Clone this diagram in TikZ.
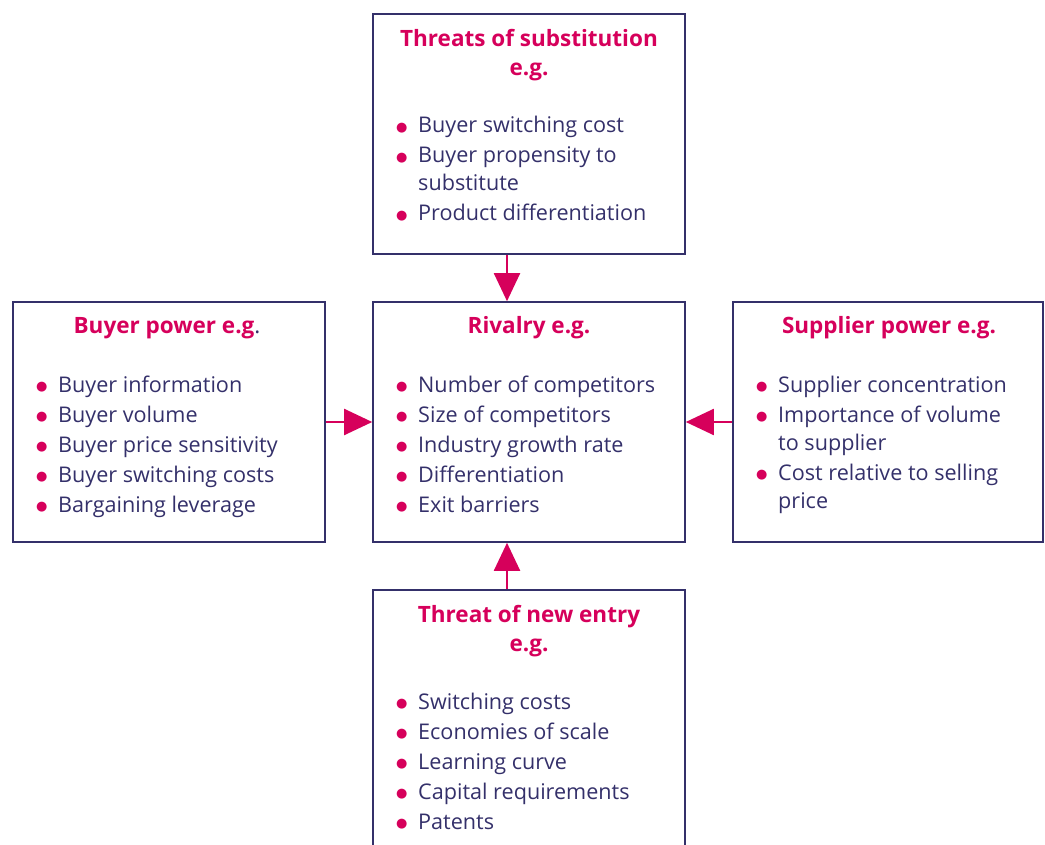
\documentclass[tikz,border=0pt]{standalone}
\usepackage{fontspec}
\setmainfont{Open Sans}
\newfontfamily\dotfont{DejaVu Sans}
\usetikzlibrary{arrows.meta}

\definecolor{navy}{HTML}{34306A}
\definecolor{rasp}{HTML}{D6005B}
\newcommand{\bul}[1]{\makebox[22pt][l]{\textcolor{rasp}{\raisebox{1.8pt}{\dotfont\fontsize{13}{13}\selectfont ●}}}#1}
\newcommand{\cont}[1]{\hspace*{22pt}#1}

\begin{document}
\begin{tikzpicture}[x=1pt, y=-1pt,
  box/.style={draw=navy, line width=1.6pt, minimum width=312pt, minimum height=240pt, inner sep=0pt},
  head/.style={text=rasp, font=\bfseries\fontsize{22.5}{29}\selectfont, align=center, anchor=base, inner sep=0pt},
  list/.style={text=navy, font=\fontsize{21.6}{30}\selectfont, align=left, anchor=base west, inner sep=0pt},
  force/.style={draw=rasp, line width=2pt, -{Triangle[width=26pt,length=28pt]}}]
\clip (0,0) rectangle (1045,845);

% the five forces
\node[box] (subst) at (529,134) {};
\node[box] (rival) at (529,422) {};
\node[box] (buyer) at (169,422) {};
\node[box, minimum width=310pt] (supplier) at (888,422) {};
\node[box, minimum height=290pt] (entry) at (529,735) {};

% headings (anchored at the last line)
\node[head] (substH) at (529,76) {Threats of substitution\\e.g.};
\node[head] (rivalH) at (529,334) {Rivalry e.g.};
\node[head] (buyerH) at (167,334) {Buyer power e.g\textcolor{navy}{\mdseries.}};
\node[head] (supplierH) at (889,334) {Supplier power e.g.};
\node[head] (entryH) at (529,651) {Threat of new entry\\e.g.};

% examples (anchored at the last line)
\node[list] (substL) at (396,221) {\bul{Buyer switching cost}\\\bul{Buyer propensity to}\\[-2pt]\cont{substitute}\\\bul{Product differentiation}};
\node[list] (rivalL) at (396,512) {\bul{Number of competitors}\\\bul{Size of competitors}\\\bul{Industry growth rate}\\\bul{Differentiation}\\\bul{Exit barriers}};
\node[list] (buyerL) at (36,512) {\bul{Buyer information}\\\bul{Buyer volume}\\\bul{Buyer price sensitivity}\\\bul{Buyer switching costs}\\\bul{Bargaining leverage}};
\node[list] (supplierL) at (756,508) {\bul{Supplier concentration}\\\bul{Importance of volume}\\[-2pt]\cont{to supplier}\\\bul{Cost relative to selling}\\[-2pt]\cont{price}};
\node[list] (entryL) at (396,829) {\bul{Switching costs}\\\bul{Economies of scale}\\\bul{Learning curve}\\\bul{Capital requirements}\\\bul{Patents}};

% arrows into rivalry
\draw[force] ([xshift=-22pt]subst.south) -- ([xshift=-22pt]rival.north);
\draw[force] (buyer) -- (rival);
\draw[force] (supplier) -- (rival);
\draw[force] ([xshift=-22pt]entry.north) -- ([xshift=-22pt]rival.south);
\end{tikzpicture}
\end{document}
